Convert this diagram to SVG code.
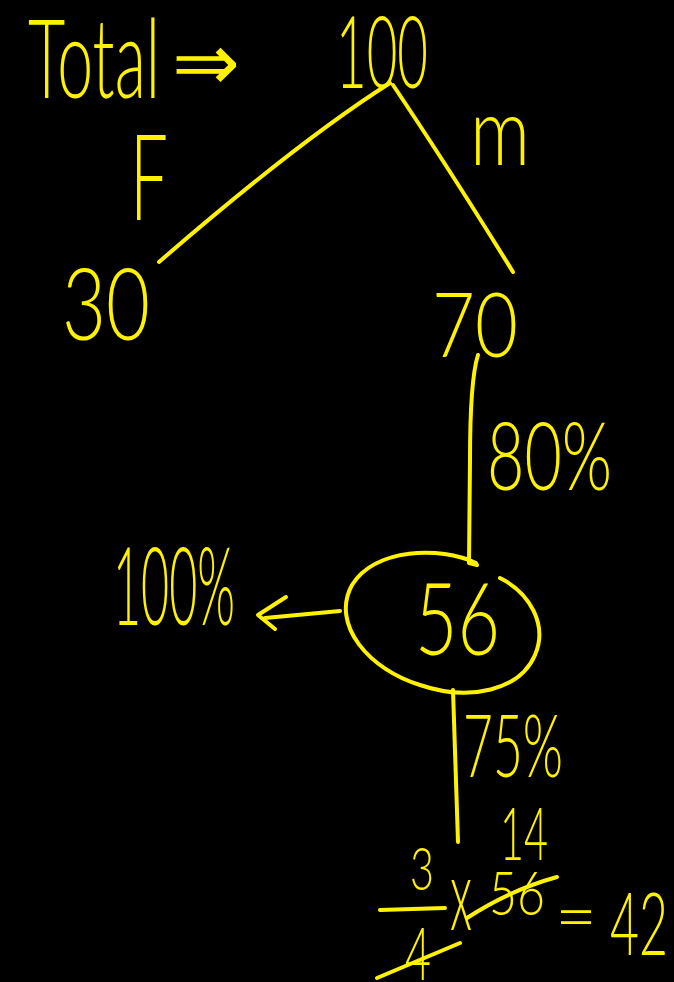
<svg xmlns="http://www.w3.org/2000/svg" width="674" height="982" viewBox="0 0 674 982">
<style>
.t{font-family:Lato,"Liberation Sans",Arial,sans-serif;fill:#fff200;font-weight:300}
.l{fill:none;stroke:#fff200;stroke-width:4;stroke-linecap:round;stroke-linejoin:round}
</style>
<rect width="674" height="982" fill="#000"/>
<g id="title"><text class="t" x="28" y="98" font-size="110" textLength="132" lengthAdjust="spacingAndGlyphs">Total</text>
<text class="t" x="172" y="90" font-size="80" textLength="68" lengthAdjust="spacingAndGlyphs">⇒</text></g>
<g id="n100"><text class="t" x="336" y="88" font-size="100" textLength="92" lengthAdjust="spacingAndGlyphs">100</text></g>
<g id="n30"><text class="t" x="62" y="340" font-size="100" textLength="88" lengthAdjust="spacingAndGlyphs">30</text></g>
<g id="n70"><text class="t" x="432" y="357" font-size="90" textLength="86" lengthAdjust="spacingAndGlyphs">70</text></g>
<g id="n56"><path class="l" d="M476 563 C440 546 375 548 352 585 C330 625 370 670 420 685 C470 702 520 690 535 655 C548 625 530 593 500 578"/>
<text class="t" x="415" y="655" font-size="100" textLength="85" lengthAdjust="spacingAndGlyphs">56</text></g>
<g id="n100pct"><text class="t" x="113" y="625" font-size="108" textLength="122" lengthAdjust="spacingAndGlyphs">100%</text></g>
<g id="calc">
<text class="t" x="500" y="860" font-size="72" textLength="48" lengthAdjust="spacingAndGlyphs">14</text>
<text class="t" x="410" y="890" font-size="60" textLength="24" lengthAdjust="spacingAndGlyphs">3</text>
<text class="t" x="405" y="980" font-size="72" textLength="26" lengthAdjust="spacingAndGlyphs">4</text>
<text class="t" x="450" y="930" font-size="100" textLength="22" lengthAdjust="spacingAndGlyphs">x</text>
<text class="t" x="489" y="915" font-size="62" textLength="56" lengthAdjust="spacingAndGlyphs">56</text>
<text class="t" x="555" y="941" font-size="70" textLength="42" lengthAdjust="spacingAndGlyphs">=</text>
<text class="t" x="610" y="955" font-size="86" textLength="58" lengthAdjust="spacingAndGlyphs">42</text>
<path class="l" d="M380 910 L445 908 M377 978 L460 943 M467 918 Q510 890 557 877"/>
</g>
<g id="connectors">
<path class="l" d="M390 83 Q300 140 159 262"/>
<path class="l" d="M393 85 Q450 170 513 272"/>
<path class="l" d="M478 355 Q470 380 470 460 L469 563 L477 565"/>
<path class="l" d="M340 611 L265 618 M286 597 L258 615 L275 629"/>
<path class="l" d="M453 690 Q455 760 458 842"/>
<text class="t" x="130" y="220" font-size="120" textLength="38" lengthAdjust="spacingAndGlyphs">F</text>
<text class="t" x="470" y="165" font-size="95" textLength="60" lengthAdjust="spacingAndGlyphs">m</text>
<text class="t" x="487" y="490" font-size="95" textLength="125" lengthAdjust="spacingAndGlyphs">80%</text>
<text class="t" x="463" y="777" font-size="86" textLength="100" lengthAdjust="spacingAndGlyphs">75%</text>
</g>
</svg>
